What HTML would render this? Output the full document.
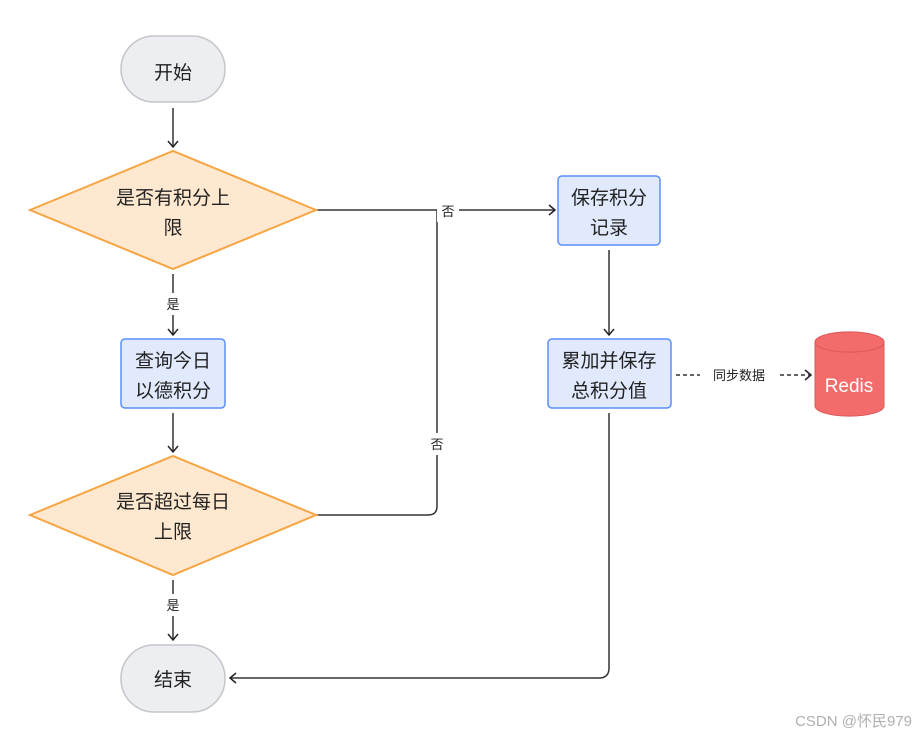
<!DOCTYPE html>
<html><head><meta charset="utf-8"><style>
html,body{margin:0;padding:0;background:#fff;}
svg{display:block;font-family:"Liberation Sans","Noto Sans CJK SC",sans-serif;}
</style></head><body>
<svg width="920" height="735" viewBox="0 0 920 735" xmlns="http://www.w3.org/2000/svg">
<defs>
<marker id="a" markerWidth="12" markerHeight="12" refX="9" refY="6" orient="auto" markerUnits="userSpaceOnUse">
<path d="M3,1 L9,6 L3,11" fill="none" stroke="#222" stroke-width="1.5"/>
</marker>
</defs>
<g fill="none" stroke="#333" stroke-width="1.5">
<line x1="173" y1="108" x2="173" y2="147" marker-end="url(#a)"/>
<line x1="316" y1="210" x2="555" y2="210" marker-end="url(#a)"/>
<line x1="609" y1="250" x2="609" y2="335" marker-end="url(#a)"/>
<line x1="173" y1="274" x2="173" y2="335" marker-end="url(#a)"/>
<line x1="173" y1="413" x2="173" y2="452" marker-end="url(#a)"/>
<path d="M316,515 L428,515 Q437,515 437,506 L437,210"/>
<line x1="173" y1="580" x2="173" y2="640" marker-end="url(#a)"/>
<path d="M609,413 L609,668 Q609,678 599,678 L230,678" marker-end="url(#a)"/>
<line x1="676" y1="375" x2="700" y2="375" stroke-dasharray="4,3"/>
<line x1="780" y1="375" x2="811" y2="375" stroke-dasharray="4,3" marker-end="url(#a)"/>
</g>
<!-- label backgrounds -->
<rect x="437" y="200" width="22" height="22" fill="#fff"/>
<rect x="426" y="433" width="22" height="22" fill="#fff"/>
<rect x="162" y="293" width="22" height="22" fill="#fff"/>
<rect x="162" y="594" width="22" height="22" fill="#fff"/>
<g font-size="13" fill="#222" text-anchor="middle">
<text x="448" y="216">否</text>
<text x="437" y="449">否</text>
<text x="173" y="309">是</text>
<text x="173" y="610">是</text>
<text x="739" y="380">同步数据</text>
</g>
<rect x="121" y="36" width="104" height="66" rx="33" fill="#eceef1" stroke="#c4c6ca" stroke-width="1.5"/>
<rect x="121" y="645" width="104" height="67" rx="33" fill="#eceef1" stroke="#c4c6ca" stroke-width="1.5"/>
<polygon points="30,210 173,151 316,210 173,269" fill="#fee8cf" stroke="#f7a442" stroke-width="2"/>
<polygon points="30,515 173,456 316,515 173,575" fill="#fee8cf" stroke="#f7a442" stroke-width="2"/>
<rect x="558" y="176" width="102" height="69" rx="4" fill="#e1eafd" stroke="#5b8ff9" stroke-width="1.5"/>
<rect x="548" y="339" width="123" height="69" rx="4" fill="#e1eafd" stroke="#5b8ff9" stroke-width="1.5"/>
<rect x="121" y="339" width="104" height="69" rx="4" fill="#e1eafd" stroke="#5b8ff9" stroke-width="1.5"/>
<path d="M815,342 L815,406 A34,10 0 0 0 884,406 L884,342 A34,10 0 0 0 815,342 Z" fill="#f46b6b" stroke="#d85858" stroke-width="1"/>
<path d="M815,342 A34,10 0 0 0 884,342" fill="none" stroke="#d85858" stroke-width="1"/>
<g font-size="19" fill="#222" text-anchor="middle">
<text x="173" y="79">开始</text>
<text x="173" y="686">结束</text>
<text x="173" y="204">是否有积分上</text>
<text x="173" y="234">限</text>
<text x="173" y="508">是否超过每日</text>
<text x="173" y="538">上限</text>
<text x="609" y="204">保存积分</text>
<text x="609" y="234">记录</text>
<text x="609" y="367">累加并保存</text>
<text x="609" y="397">总积分值</text>
<text x="173" y="367">查询今日</text>
<text x="173" y="397">以德积分</text>
<text x="849" y="392" fill="#fff">Redis</text>
</g>
<text x="912" y="726" font-size="15" fill="#b0b0b0" text-anchor="end">CSDN @怀民979</text>
</svg>
</body></html>
